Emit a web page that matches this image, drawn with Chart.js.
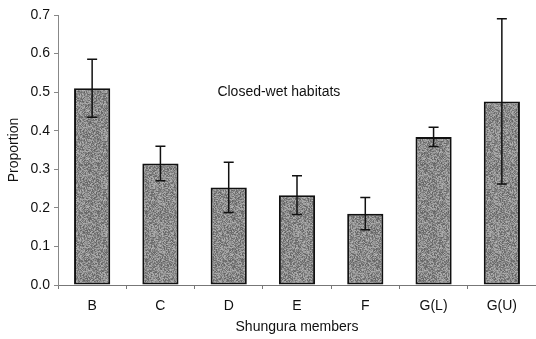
<!DOCTYPE html>
<html>
<head>
<meta charset="utf-8">
<script src="https://cdn.jsdelivr.net/npm/chart.js@4.4.1/dist/chart.umd.min.js"></script>
<style>
  html, body { margin: 0; padding: 0; background: #fff; }
  #wrap { width: 536px; height: 339px; }
</style>
</head>
<body>
<div id="wrap"><canvas id="c" width="536" height="339"></canvas></div>
<script>
// Shungura members and the proportion of closed-wet habitat indicators
const members = ['B', 'C', 'D', 'E', 'F', 'G(L)', 'G(U)'];
const proportion = [0.51, 0.315, 0.253, 0.233, 0.185, 0.384, 0.476];
const errorHalf = [0.075, 0.045, 0.065, 0.05, 0.042, 0.025, 0.214];
const yTicks = [0, 0.1, 0.2, 0.3, 0.4, 0.5, 0.6, 0.7];
const habitatLabel = 'Closed-wet habitats';

const FONT = '"Liberation Sans", Arial, sans-serif';

// Stippled grey fill for the bars (deterministic dither)
function stipple() {
  const s = 48;
  const cv = document.createElement('canvas');
  cv.width = s; cv.height = s;
  const ctx = cv.getContext('2d');
  const img = ctx.createImageData(s, s);
  for (let y = 0; y < s; y++) {
    for (let x = 0; x < s; x++) {
      let h = (x * 374761393 + y * 668265263) >>> 0;
      h = ((h ^ (h >>> 13)) * 1274126177) >>> 0;
      h = (h ^ (h >>> 16)) >>> 0;
      const v = 138 + ((h % 81) - 40);
      const i = (y * s + x) * 4;
      img.data[i] = v; img.data[i + 1] = v; img.data[i + 2] = v; img.data[i + 3] = 255;
    }
  }
  ctx.putImageData(img, 0, 0);
  return cv;
}

const errorBars = {
  id: 'errorBars',
  afterDatasetsDraw(chart) {
    const ctx = chart.ctx;
    const y = chart.scales.y;
    const meta = chart.getDatasetMeta(0);
    ctx.save();
    ctx.strokeStyle = '#111';
    ctx.lineWidth = 1.5;
    meta.data.forEach((bar, i) => {
      const x = bar.x;
      const top = y.getPixelForValue(proportion[i] + errorHalf[i]);
      const bot = y.getPixelForValue(proportion[i] - errorHalf[i]);
      ctx.beginPath();
      ctx.moveTo(x, top); ctx.lineTo(x, bot);
      ctx.moveTo(x - 5, top); ctx.lineTo(x + 5, top);
      ctx.moveTo(x - 5, bot); ctx.lineTo(x + 5, bot);
      ctx.stroke();
    });
    ctx.restore();
  }
};

const annotation = {
  id: 'annotation',
  afterDraw(chart) {
    const ctx = chart.ctx;
    const xs = chart.scales.x, ys = chart.scales.y;
    const x = (xs.getPixelForValue(2) + xs.getPixelForValue(3)) / 2 + 16;
    const y = ys.getPixelForValue(0.5);
    ctx.save();
    ctx.font = '14px ' + FONT;
    ctx.fillStyle = '#111';
    ctx.textAlign = 'center';
    ctx.textBaseline = 'middle';
    ctx.fillText(habitatLabel, x, y);
    ctx.restore();
  }
};

const ctx = document.getElementById('c').getContext('2d');
const pattern = ctx.createPattern(stipple(), 'repeat');

new Chart(ctx, {
  type: 'bar',
  data: {
    labels: members,
    datasets: [{
      data: proportion,
      backgroundColor: pattern,
      borderColor: '#111',
      borderWidth: 2,
      borderSkipped: false,
      categoryPercentage: 1,
      barPercentage: 0.53
    }]
  },
  options: {
    responsive: false,
    animation: false,
    devicePixelRatio: 1,
    layout: { padding: { top: 15, right: 0, left: 0, bottom: 0 } },
    plugins: { legend: { display: false }, tooltip: { enabled: false } },
    scales: {
      x: {
        offset: true,
        afterFit(scale) { scale.height = 54; },
        grid: { display: true, offset: true, drawOnChartArea: false, tickLength: 4, color: '#777', tickColor: '#777' },
        border: { color: '#777', width: 1 },
        ticks: { color: '#111', font: { family: FONT, size: 14 }, padding: 9 },
        title: { display: true, text: 'Shungura members', color: '#111', font: { family: FONT, size: 14 }, padding: { top: 4, bottom: 3 } }
      },
      y: {
        min: 0, max: 0.7,
        afterFit(scale) { scale.width = 58; },
        afterBuildTicks(scale) { scale.ticks = yTicks.map(v => ({ value: v })); },
        grid: { display: true, drawOnChartArea: false, tickLength: 4, color: '#888', tickColor: '#888' },
        border: { color: '#888', width: 1 },
        ticks: { color: '#111', font: { family: FONT, size: 14 }, padding: 4, callback: v => Number(v).toFixed(1) },
        title: { display: true, text: 'Proportion', color: '#111', font: { family: FONT, size: 14 }, padding: { top: 6, bottom: 2 } }
      }
    }
  },
  plugins: [errorBars, annotation]
});
</script>
</body>
</html>
